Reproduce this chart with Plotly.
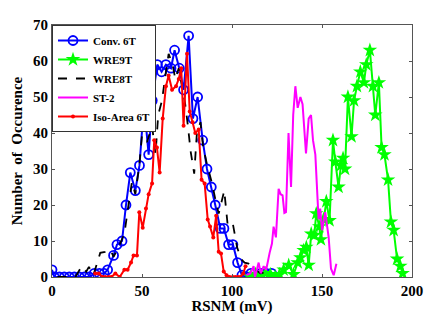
import plotly.graph_objects as go

conv_x = [0, 1.3, 4.1, 6.8, 9.6, 12.4, 15.2, 18, 20.7, 23.5, 26.3, 29, 30.9, 34.2, 36.1, 38.9, 41.1, 43.5, 46.3, 48.6,
          51.1, 53.7, 55.7, 58.5, 60.9, 63.3, 66.1, 68.1, 70.7, 73.1, 75.9, 78.3, 80.9, 83.7, 86.1, 88.5, 90.7, 93.5,
          95.5, 98.1, 100.5, 103.1, 105.5, 108, 110.5, 113, 116, 119, 122]
conv_y = [2, 0, 0, 0, 0, 0, 0, 0, 0, 1, 1, 1, 2, 6, 9, 10, 20, 29, 24, 31,
          48, 34, 49, 59, 57, 59, 58, 63, 58, 52, 67, 44, 50, 38, 30, 25, 20, 13.5,
          13.5, 9, 9, 4, 0.5, 0, 1, 0, 1, 1, 1]

wre9_x = [110.2, 113, 115.5, 118.5, 121.3, 124, 126.4, 128.7, 131.5, 134.2, 136.5, 138, 139.8, 141.3, 142.6, 144,
          145.7, 146.8, 148.5, 149.4, 150.8, 152.4, 154.2, 156.1, 157.4, 159.2, 160.5, 161.7, 162.8, 164.4, 166.4,
          167.8, 169.4, 171.3, 173.3, 174.6, 176.6, 178.3, 179.6, 181.6, 183.1, 184.7, 186.7, 188.3, 189.8, 191.7,
          193.5, 194.8]
wre9_y = [0, 0.8, 0, 1, 0.7, 0, 0.7, 2, 3.3, 0.7, 4, 5.4, 7.4, 8.3, 3.3, 12,
          11.6, 17.6, 14, 10.4, 16, 21, 15.7, 38, 32, 25, 31, 33, 30, 50, 39,
          49, 53, 57, 54, 59, 63, 53, 45, 54, 36, 34, 27, 15.3, 13, 5,
          3, 1]

wre8_x = [3, 6, 9, 13, 16.5, 19, 20.5, 23, 26.8, 29.5, 32.4, 34.2, 37, 40.2, 42.5, 44.4, 46.3, 48.5, 50, 52.8,
          55.6, 57.5, 59, 61.1, 63, 64.8, 67, 68.5, 70.4, 72.2, 74, 75.5, 77, 79, 80.5, 82.5, 84, 86, 88.9, 91,
          92.6, 95.7, 97.6, 100.4, 102.8, 105, 107, 109.2, 112, 115.7, 117.5, 119.6]
wre8_y = [0, 0, 0, 0, 3, 1.5, 2.8, 0.5, 6.7, 7, 7.6, 5.6, 8.3, 12, 20, 26.4, 23, 31, 39.4, 37.5,
          42, 34, 45, 49, 56, 62, 59, 55, 58, 52.8, 48, 42, 35, 28.7, 40, 43, 36, 31.5, 26, 21,
          17.6, 24, 14.4, 15, 8.3, 5, 4, 3.7, 2.5, 1, 1.2, 1.5]

st2_x = [108, 110.2, 112, 112.8, 114.8, 116, 117.6, 119, 120.9, 122.2, 123.1, 124.4, 125.9, 127, 128.1, 129.1,
         130, 131.4, 132.8, 134, 135.2, 136.5, 138, 139.2, 141.1, 142.6, 143.9, 145, 146.3, 147.3, 148.1, 149,
         150, 151.8, 153.7, 155, 156.5, 158]
st2_y = [0.5, 1, 3, 0, 4, 1, 3, 2, 6.7, 9.3, 14, 11, 24.5, 23, 22.7, 17.8,
         18, 40, 25, 45, 53, 47, 50, 48, 34.3, 44, 45, 38, 34, 24, 16, 19,
         13, 18, 11, 2.3, 0.5, 3.7]

iso_x = [24, 26, 28, 29.6, 31.5, 33, 35.2, 37.6, 40.2, 42, 43.9, 45.3, 47.2, 48.5, 50.4, 52.2, 53.7, 55.6, 56.8,
         58.3, 59.8, 61.5, 63.3, 64.8, 66.7, 68.9, 70.4, 71.8, 73.1, 75, 76.5, 78.1, 79.6, 81.5, 83.1, 84.8, 86.5,
         87.8, 89.6, 91.2, 92.6, 93.9, 95.4, 97, 98.7, 100.4, 101.8, 103.3, 104.6, 106.3, 107.5]
iso_y = [1, 1, 0, 0, 0, 0, 1, 0, 2, 2, 4, 6, 6, 18, 13.7, 19, 23, 26, 38,
         36, 29, 44, 53, 56, 52, 53, 55, 58, 42, 62, 46, 43, 40, 41, 27, 26, 16,
         14, 11, 17, 7, 6.5, 1.5, 0.5, 0, 0, 0, 0, 0, 1, 3]

FONT = "Liberation Serif"

fig = go.Figure()
fig.add_trace(go.Scatter(x=conv_x, y=conv_y, name="Conv. 6T", mode="lines+markers",
                         line=dict(color="#0000FF", width=2),
                         marker=dict(symbol="circle-open", size=9, color="#0000FF", line=dict(width=1.8))))
fig.add_trace(go.Scatter(x=wre9_x, y=wre9_y, name="WRE9T", mode="lines+markers",
                         line=dict(color="#00FF00", width=2),
                         marker=dict(symbol="star", size=11, color="#00FF00")))
fig.add_trace(go.Scatter(x=wre8_x, y=wre8_y, name="WRE8T", mode="lines",
                         line=dict(color="black", width=1.8, dash="dash")))
fig.add_trace(go.Scatter(x=st2_x, y=st2_y, name="ST-2", mode="lines",
                         line=dict(color="#FF00FF", width=2)))
fig.add_trace(go.Scatter(x=iso_x, y=iso_y, name="Iso-Area 6T", mode="lines+markers",
                         line=dict(color="#FF0000", width=2),
                         marker=dict(symbol="circle", size=4, color="#FF0000")))

axis_common = dict(showgrid=False, zeroline=False, showline=True, linecolor="#555555", linewidth=1,
                   mirror="ticks", ticks="inside", ticklen=3, tickcolor="#555555", automargin=False,
                   tickfont=dict(family=FONT, size=15, color="black", weight="bold"))
fig.update_xaxes(range=[0, 200], tickvals=[0, 50, 100, 150, 200],
                 title=dict(text="RSNM (mV)", font=dict(family=FONT, size=15, color="black", weight="bold"),
                            standoff=2),
                 **axis_common)
fig.update_yaxes(range=[0, 70], tickvals=[0, 10, 20, 30, 40, 50, 60, 70],
                 title=dict(text="Number  of  Occurence", font=dict(family=FONT, size=15, color="black", weight="bold"),
                            standoff=6),
                 **axis_common)

fig.update_layout(
    width=435, height=315,
    margin=dict(l=52, r=23, t=25, b=38),
    paper_bgcolor="white", plot_bgcolor="white",
    legend=dict(x=0, y=1, xanchor="left", yanchor="top", bgcolor="white",
                bordercolor="#333333", borderwidth=1,
                font=dict(family=FONT, size=11, color="black", weight="bold"),
                tracegroupgap=0, itemwidth=30),
    showlegend=True,
)

fig.write_html("out.html")
